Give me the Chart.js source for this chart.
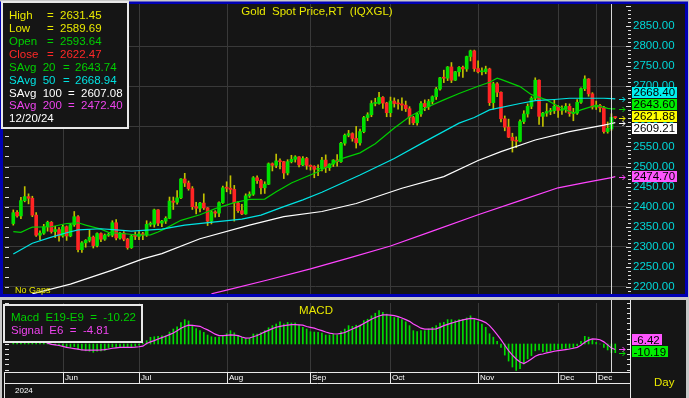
<!DOCTYPE html>
<html><head><meta charset="utf-8">
<script src="https://cdn.jsdelivr.net/npm/chart.js@4.4.1/dist/chart.umd.min.js"></script>
<style>
html,body{margin:0;padding:0;background:#c8c8c8;}
#wrap{position:relative;width:689px;height:398px;overflow:hidden;background:#c8c8c8;}
canvas{position:absolute;left:0;display:block;}
#cp{top:0;} #cm{top:297px;}
</style></head><body>
<div id="wrap"><canvas id="cp" width="689" height="297"></canvas><canvas id="cm" width="689" height="101"></canvas></div>
<script>
// ---------------- DATA ----------------
// bar index 0 = 2024-05-15 ... 157 = 2024-12-20 (cursor), 158 = 2024-12-23
const opens = [
 2358,2386,2377,2415,2425,2421,2379,2329,2334,2350,
 2361,2338,2343,2327,2350,2327,2355,2375,2293,2310,
 2316,2324,2303,2333,2319,2329,2329,2360,2322,2334,
 2319,2298,2327,2326,2332,2330,2356,2356,2392,2359,
 2364,2371,2414,2411,2422,2469,2459,2445,2400,2396,
 2409,2397,2364,2387,2384,2410,2447,2446,2443,2409,
 2390,2382,2427,2431,2472,2465,2447,2456,2507,2503,
 2514,2512,2484,2512,2518,2524,2504,2520,2503,2500,
 2493,2495,2516,2497,2506,2516,2512,2558,2578,2582,
 2570,2559,2587,2622,2629,2657,2657,2672,2658,2634,
 2663,2657,2656,2653,2644,2622,2609,2631,2657,2649,
 2662,2674,2693,2721,2720,2748,2715,2736,2747,2743,
 2774,2788,2744,2736,2736,2743,2659,2706,2685,2619,
 2598,2573,2565,2563,2612,2631,2650,2670,2715,2625,
 2633,2637,2639,2650,2640,2643,2650,2632,2633,2660,
 2694,2718,2681,2648,2652,2646,2587,2593.64,2623.5];
const highs = [
 2392,2390,2423,2450,2432,2426,2385,2340,2356,2364,
 2363,2351,2348,2354,2352,2358,2388,2378,2313,2318,
 2342,2327,2335,2335,2332,2334,2365,2368,2336,2338,
 2321,2330,2337,2338,2336,2365,2362,2394,2393,2366,
 2375,2424,2424,2440,2470,2483,2464,2450,2411,2411,
 2432,2398,2390,2390,2412,2451,2462,2477,2453,2413,
 2406,2432,2437,2475,2477,2468,2462,2509,2509,2531,
 2519,2513,2517,2528,2527,2525,2525,2523,2504,2502,
 2504,2523,2529,2507,2517,2530,2560,2581,2590,2584,
 2600,2593,2625,2634,2664,2670,2685,2674,2660,2673,
 2671,2667,2671,2663,2649,2625,2634,2662,2666,2667,
 2676,2697,2722,2740,2749,2759,2737,2749,2750,2775,
 2790,2790,2763,2746,2750,2745,2710,2709,2686,2626,
 2618,2583,2574,2616,2639,2656,2674,2721,2716,2635,
 2657,2645,2665,2652,2651,2657,2656,2645,2667,2696,
 2726,2719,2684,2663,2655,2650,2611,2631.45,2624];
const lows = [
 2354,2374,2370,2412,2407,2375,2326,2318,2331,2339,
 2334,2323,2314,2324,2316,2325,2351,2287,2286,2299,
 2312,2297,2300,2313,2316,2326,2325,2317,2319,2315,
 2294,2296,2318,2318,2318,2326,2351,2349,2353,2350,
 2358,2370,2393,2406,2420,2450,2441,2393,2382,2387,
 2393,2353,2357,2374,2375,2408,2437,2432,2364,2386,
 2380,2381,2423,2428,2458,2432,2433,2455,2489,2497,
 2494,2470,2479,2509,2511,2499,2502,2493,2491,2472,
 2477,2489,2485,2490,2500,2501,2510,2553,2574,2563,
 2546,2553,2584,2614,2624,2651,2655,2645,2624,2624,
 2648,2643,2640,2637,2605,2604,2603,2625,2639,2642,
 2656,2667,2690,2709,2714,2709,2714,2725,2722,2737,
 2763,2737,2733,2728,2731,2652,2643,2674,2611,2589,
 2572,2536,2547,2561,2607,2623,2644,2666,2605,2600,
 2625,2629,2632,2622,2630,2635,2625,2614,2630,2657,
 2689,2675,2643,2642,2636,2583,2583,2589.69,2619];
const closes = [
 2385,2377,2415,2425,2421,2379,2329,2334,2350,2361,
 2338,2343,2327,2350,2327,2355,2375,2293,2310,2316,
 2324,2303,2333,2319,2329,2329,2360,2322,2334,2319,
 2298,2327,2326,2332,2330,2356,2356,2392,2359,2364,
 2371,2414,2411,2422,2469,2459,2445,2400,2396,2409,
 2397,2364,2387,2384,2410,2447,2446,2443,2409,2390,
 2382,2427,2431,2472,2465,2447,2456,2507,2503,2514,
 2512,2484,2512,2518,2524,2504,2520,2503,2500,2493,
 2495,2516,2497,2506,2516,2512,2558,2578,2582,2570,
 2559,2587,2622,2629,2657,2657,2672,2658,2634,2663,
 2657,2656,2653,2644,2622,2609,2631,2657,2649,2662,
 2674,2693,2721,2720,2748,2715,2736,2747,2743,2774,
 2788,2744,2736,2736,2743,2659,2706,2685,2619,2598,
 2573,2565,2563,2612,2631,2650,2670,2715,2625,2633,
 2637,2639,2650,2640,2643,2650,2632,2633,2660,2694,
 2718,2681,2648,2652,2646,2587,2595,2622.47,2621.88];

const ma20Idx = [0,2,4,5,10,14,17,19,23,25,30,33,36,38,40,44,49,53,58,62,66,69,73,77,80,86,91,95,100,104,108,113,117,122,125,127,128,133,136,140,143,147,149,153,156,157,158];
const ma20    = [2338,2336,2345,2349,2350,2358,2360,2354,2344,2336,2332,2329,2330,2337,2346,2366,2380,2395,2410,2418,2419,2437,2459,2475,2487,2519,2534,2557,2596,2624,2645,2666,2682,2700,2710,2720,2717,2699,2679,2666,2650,2633,2641,2653,2645,2643.74,2643.60];
const ma50Idx = [0,5,10,14,17,23,27,31,36,39,45,53,60,65,71,76,81,91,100,108,117,121,125,133,137,142,146,155,157,158];
const ma50    = [2282,2309,2324,2335,2342,2345,2342,2339,2342,2344,2354,2362,2369,2379,2400,2417,2436,2479,2520,2562,2608,2622,2641,2657,2664,2667,2670,2670,2668.94,2668.40];
const ma100Idx = [5,15,26,34,39,49,62,71,81,90,102,113,122,128,137,146,155,157,158];
const ma100    = [2183,2207,2242,2270,2283,2320,2354,2375,2388,2408,2446,2475,2515,2537,2566,2587,2603,2607.08,2609.21];
const ma200Idx = [52,56,67,78,88,99,110,122,133,143,150,157,158];
const ma200    = [2183,2192,2218,2245,2272,2302,2339,2380,2415,2447,2460,2472.40,2474.70];

// MACD (E19-E9) histogram and signal (E6), one value per bar
const macd = [
 4,5,8,11,12,10,5,2,1,0.5,
 -0.5,-1,-1.5,-2,-3.5,-4,-3,-6,-7,-8,
 -8.5,-9.7,-8.5,-8,-7.5,-5,-3.5,-4,-3.5,-3.5,
 -4,-3,-2.5,-1.5,1,3.9,7.8,8.5,9,9.5,
 9.75,14,17.5,20,25,28.5,27,22,18,15.6,
 13.6,10.5,8.5,7.8,8,9,12,15.6,13,10,
 7.8,5.9,6.6,11.7,11.7,13.5,15.6,19,21.5,23.4,
 26,23.4,25.3,24.6,24.6,22.5,19.5,17.5,14.4,14,
 13.6,12.9,10.5,10.5,11.7,10.5,14.4,17.5,21.5,20.7,
 22,22,27.3,29,33,36,39,37,35,33,
 31,31,28.5,26,21.5,15.6,14.4,15.6,15.6,17.5,
 19.5,21.5,24.6,25.3,28.5,28.5,27.3,28.5,29,30.5,
 33,29,26,23.4,19.5,12,8,3,-4,-13,
 -20,-27,-31,-29,-23.4,-17.5,-13.6,-8,-7,-9,
 -9,-8,-7,-6,-5.5,-5,-5,-4.5,-2,3,
 9,8,5,2,0,-4,-7,-10.22,-10.19];
const signal = [
 2,2.5,4,6,7.5,8,7,5.5,3.5,1,
 -0.5,-1,-1.8,-2.8,-3.9,-4.7,-5.4,-6.1,-7,-7.2,
 -7.3,-7.3,-7.1,-7,-6.6,-5.9,-5,-4.5,-4,-3.9,
 -3.9,-3.9,-3.6,-3.2,-2.5,0.5,2.5,4,5.9,7.5,
 9,11,12.9,15.5,18.5,20.5,22,21.8,21.2,20.7,
 18.5,16.5,14,11.5,9.75,9.7,10.2,10.6,10.4,9.75,
 8.2,6.8,7,8.5,10,12,14.2,16,18,19.6,
 20.7,21.5,22,22.6,22.6,22.3,22,20.5,19.5,18.5,
 17,15.6,14,12.8,12,11.7,12.5,13.5,15.5,17.5,
 19.5,21.5,24,26.5,29,31,32.8,34,34,33.8,
 33.2,32,30.5,28.5,26.5,23.5,21,18.5,17.5,17.3,
 17.3,17.8,19.5,21.5,23,24.5,25.8,27,28.2,29.2,
 30,29.7,28.5,27,25,21.5,16.5,11,5,-1.5,
 -7.8,-13,-17.5,-21,-23,-20.5,-17.5,-14.4,-12.5,-11.7,
 -10.5,-9.5,-8.5,-7.8,-7.2,-6.6,-5.9,-5,-3.9,-1.5,
 2,4.5,5.9,5.6,5,2.5,-1,-4.81,-6.42];

const monthIdx = [13,33,56,78,99,122,143,153];
const monthLabels = ['Jun','Jul','Aug','Sep','Oct','Nov','Dec','Dec'];
const yearLabel = '2024';
const cursorIdx = 157;
const cursorDate = '12/20/24';
const titleText = 'Gold  Spot Price,RT  (IQXGL)';

// ---------------- LAYOUT / STYLE ----------------
const FONT = "'Liberation Sans', Arial, sans-serif";
Chart.defaults.font.family = FONT;
Chart.defaults.font.size = 11.5;
const X_MIN = -2.44, X_MAX = 161.08;
const PRICE_MIN = 2182.5, PRICE_MAX = 2904.8;
const MACD_MIN = -32.8, MACD_MAX = 48;
const COL = {bg:'#151515', grid:'#393939', blue:'#0000b4', frame:'#c8c8c8', up:'#00e000', down:'#ff2424',
  wick:'#c0c000', ma20:'#00d000', ma50:'#00e4e4', ma100:'#ffffff', ma200:'#ff44ff', yellow:'#e8e800',
  axis:'#00d8d8', macd:'#00dd00', signal:'#ff4cff', white:'#f0f0f0', green:'#00d000', red:'#ff2828',
  cyan:'#00e0e0', magenta:'#ee44ee', tick:'#e0e0e0'};

function seg(ctx,x1,y1,x2,y2){ctx.beginPath();ctx.moveTo(x1,y1);ctx.lineTo(x2,y2);ctx.stroke();}
function arrow(ctx,x,y,col){
  y=Math.round(y)+0.5; ctx.strokeStyle=col; ctx.lineWidth=1;
  seg(ctx,x-6,y,x,y); ctx.beginPath(); ctx.moveTo(x-2.5,y-2.5); ctx.lineTo(x,y); ctx.lineTo(x-2.5,y+2.5); ctx.stroke();
}
function tag(ctx,text,yc,bg){
  ctx.font='11.5px '+FONT; const w=ctx.measureText(text).width;
  ctx.fillStyle=bg; ctx.fillRect(632,Math.round(yc-5.5),Math.ceil(w)+3,11);
  ctx.fillStyle='#000'; ctx.textAlign='left'; ctx.textBaseline='middle'; ctx.fillText(text,633.5,yc+0.5);
}
function vgrid(chart){
  const {ctx,chartArea:a,scales:{x}}=chart; ctx.save(); ctx.strokeStyle=COL.grid; ctx.lineWidth=1;
  monthIdx.forEach(i=>{const px=Math.round(x.getPixelForValue(i))+0.5; seg(ctx,px,a.top,px,a.bottom);});
  ctx.restore();
}
const fixAxis = (s)=>{ s.width=59; s.paddingTop=0; s.paddingBottom=0; };
const pts=(idx,vals)=>idx.map((x,k)=>({x,y:vals[k]}));
const lineDs=(data,color)=>({type:'line',data,borderColor:color,borderWidth:1.2,pointRadius:0,tension:0,fill:false,order:0});
const last=a=>a[a.length-1];

const pricePlugin = {
  id:'pricePane',
  beforeDraw(chart){
    const ctx=chart.ctx; ctx.save();
    ctx.fillStyle=COL.frame; ctx.fillRect(0,0,689,297);
    ctx.fillStyle=COL.blue; ctx.fillRect(0,1.5,688,295.5);
    ctx.fillStyle=COL.bg; ctx.fillRect(3,4,682,290);
    ctx.restore();
  },
  beforeDatasetsDraw(chart){ vgrid(chart); },
  afterDraw(chart){
    const ctx=chart.ctx, a=chart.chartArea, xs=chart.scales.x, ys=chart.scales.y;
    ctx.save();
    ctx.strokeStyle=COL.tick; ctx.lineWidth=1;
    for(let v=2200; v<=2900; v+=25){const py=Math.round(ys.getPixelForValue(v))+0.5; if(py<a.top||py>a.bottom)continue; seg(ctx,5,py,9,py);}
    for(let v=2190; v<=2900; v+=10){const py=Math.round(ys.getPixelForValue(v))+0.5; if(py<a.top||py>a.bottom)continue; const len=(v%50===0)?5:3; seg(ctx,631-len,py,631,py);}
    const cx=Math.round(xs.getPixelForValue(cursorIdx))+0.5;
    ctx.strokeStyle='#d8d8d8'; seg(ctx,cx,a.top,cx,a.bottom);
    const marks=[[last(ma50),COL.ma50,'#00f0f0',-6.4],[last(ma20),COL.ma20,'#00f000',-4.3],[last(closes),'#e8e800','#ffff00',-1.0],[last(ma100),'#ffffff','#ffffff',5.9],[last(ma200),COL.ma200,'#ff55ff',0]];
    marks.forEach(m=>{const py=ys.getPixelForValue(m[0]); arrow(ctx,625,py,m[1]); tag(ctx,m[0].toFixed(2),py+m[3],m[2]);});
    ctx.fillStyle=COL.yellow; ctx.font='11.5px '+FONT; ctx.textAlign='center'; ctx.textBaseline='middle';
    ctx.fillText(titleText,317,12);
    ctx.font='9px '+FONT; ctx.textAlign='left'; ctx.textBaseline='alphabetic'; ctx.fillText('No Gaps',15,293);
    ctx.fillStyle=COL.bg; ctx.fillRect(2,2,126,126);
    ctx.strokeStyle='#e8e8e8'; ctx.lineWidth=2; ctx.strokeRect(2,2,126,126);
    const i=cursorIdx;
    const rows=[['High',highs[i],COL.yellow,47,60],['Low',lows[i],COL.yellow,47,60],['Open',opens[i],COL.green,47,60],['Close',closes[i],COL.red,47,60],
      ['SAvg  20',ma20[ma20.length-2],COL.green,63,75],['SAvg  50',ma50[ma50.length-2],COL.cyan,63,75],['SAvg  100',ma100[ma100.length-2],'#ffffff',68,81],['SAvg  200',ma200[ma200.length-2],COL.magenta,68,81]];
    ctx.font='11.5px '+FONT; ctx.textBaseline='middle'; ctx.textAlign='left';
    rows.forEach((r,k)=>{const y=16+12.9*k; ctx.fillStyle=r[2]; ctx.fillText(r[0],9,y); ctx.fillText('=',r[3],y); ctx.fillText(r[1].toFixed(2),r[4],y);});
    ctx.fillStyle='#ffffff'; ctx.fillText(cursorDate,9,16+12.9*8);
    ctx.restore();
  }
};

new Chart(document.getElementById('cp'), {
  type:'bar',
  data:{datasets:[
    lineDs(pts(ma200Idx,ma200),COL.ma200),
    lineDs(pts(ma100Idx,ma100),COL.ma100),
    lineDs(pts(ma50Idx,ma50),COL.ma50),
    lineDs(pts(ma20Idx,ma20),COL.ma20),
    {type:'bar',data:closes.map((c,i)=>({x:i,y:[opens[i],c]})),backgroundColor:closes.map((c,i)=>c>=opens[i]?COL.up:COL.down),barThickness:3,minBarLength:1,grouped:false,order:2},
    {type:'bar',data:closes.map((c,i)=>({x:i,y:[lows[i],highs[i]]})),backgroundColor:COL.wick,barThickness:1,grouped:false,order:3}
  ]},
  options:{
    responsive:false, animation:false, devicePixelRatio:1, events:[],
    layout:{padding:{left:4,top:4,right:3,bottom:3}},
    plugins:{legend:{display:false},tooltip:{enabled:false}},
    scales:{
      x:{type:'linear',min:X_MIN,max:X_MAX,display:false,offset:false},
      y:{type:'linear',position:'right',min:PRICE_MIN,max:PRICE_MAX,afterFit:fixAxis,
        border:{display:false},
        grid:{drawTicks:false,lineWidth:1,color:(c)=>(c.tick&&c.tick.value%100===0&&c.tick.value<=2800)?COL.grid:'rgba(0,0,0,0)'},
        ticks:{stepSize:50,includeBounds:false,autoSkip:false,padding:6,color:COL.axis,font:{size:11.5},
          callback:(v)=>(v>=2200&&v<=2850)?Number(v).toFixed(2):''}}
    }
  },
  plugins:[pricePlugin]
});

const macdPlugin = {
  id:'macdPane',
  beforeDraw(chart){
    const ctx=chart.ctx; ctx.save();
    ctx.fillStyle=COL.frame; ctx.fillRect(0,0,689,101);
    ctx.fillStyle=COL.bg; ctx.fillRect(2,3,684,98);
    ctx.restore();
  },
  beforeDatasetsDraw(chart){ vgrid(chart); },
  afterDraw(chart){
    const ctx=chart.ctx, a=chart.chartArea, xs=chart.scales.x, ys=chart.scales.y;
    ctx.save();
    ctx.strokeStyle=COL.tick; ctx.lineWidth=1;
    for(let v=-30; v<=48; v+=6){const py=Math.round(ys.getPixelForValue(v))+0.5; if(py<a.top||py>a.bottom)continue; seg(ctx,5,py,9,py); seg(ctx,627,py,631,py);}
    const cx=Math.round(xs.getPixelForValue(cursorIdx))+0.5;
    ctx.strokeStyle='#d8d8d8'; seg(ctx,cx,3,cx,a.bottom);
    ctx.strokeStyle='#e8e8e8';
    seg(ctx,4,75.5,631,75.5); seg(ctx,4,86.5,631,86.5); seg(ctx,4.5,75,4.5,101); seg(ctx,630.5,3,630.5,101);
    ctx.font='8px '+FONT; ctx.fillStyle='#ffffff'; ctx.textAlign='left'; ctx.textBaseline='middle';
    monthIdx.forEach((m,k)=>{const px=Math.round(xs.getPixelForValue(m))+0.5; ctx.strokeStyle='#e8e8e8'; seg(ctx,px,75,px,86); ctx.fillText(monthLabels[k],px+1.5,81);});
    ctx.fillText(yearLabel,15,93.5);
    ctx.font='11.5px '+FONT; ctx.fillStyle=COL.yellow; ctx.fillText('Day',654,86);
    const sv=last(signal), mv=last(macd);
    const sp=ys.getPixelForValue(sv), mp=ys.getPixelForValue(mv);
    arrow(ctx,625,sp,COL.signal); arrow(ctx,625,mp,COL.macd);
    tag(ctx,sv.toFixed(2),sp-9.5,'#ff55ff'); tag(ctx,mv.toFixed(2),mp-0.7,'#00ee00');
    ctx.font='11.5px '+FONT; ctx.fillStyle=COL.yellow; ctx.textAlign='center'; ctx.fillText('MACD',316,13.5);
    ctx.fillStyle=COL.bg; ctx.fillRect(4,8,138,37);
    ctx.strokeStyle='#e8e8e8'; ctx.lineWidth=2; ctx.strokeRect(4,8,138,37);
    ctx.textAlign='left'; ctx.fillStyle=COL.green; ctx.fillText('Macd  E19-E9  =  '+macd[cursorIdx].toFixed(2),11,20.7);
    ctx.fillStyle=COL.magenta; ctx.fillText('Signal  E6  =  '+signal[cursorIdx].toFixed(2),11,33.7);
    ctx.restore();
  }
};

new Chart(document.getElementById('cm'), {
  type:'bar',
  data:{datasets:[
    {type:'line',data:signal.map((v,i)=>({x:i,y:v})),borderColor:COL.signal,borderWidth:1.2,pointRadius:0,tension:0,fill:false,order:0},
    {type:'bar',data:macd.map((v,i)=>({x:i,y:v})),backgroundColor:COL.macd,barThickness:1,grouped:false,order:1}
  ]},
  options:{
    responsive:false, animation:false, devicePixelRatio:1, events:[],
    layout:{padding:{left:4,top:6,right:3,bottom:26}},
    plugins:{legend:{display:false},tooltip:{enabled:false}},
    scales:{
      x:{type:'linear',min:X_MIN,max:X_MAX,display:false,offset:false},
      y:{type:'linear',position:'right',min:MACD_MIN,max:MACD_MAX,afterFit:fixAxis,
        border:{display:false},grid:{display:false},ticks:{display:false}}
    }
  },
  plugins:[macdPlugin]
});
</script></body></html>
